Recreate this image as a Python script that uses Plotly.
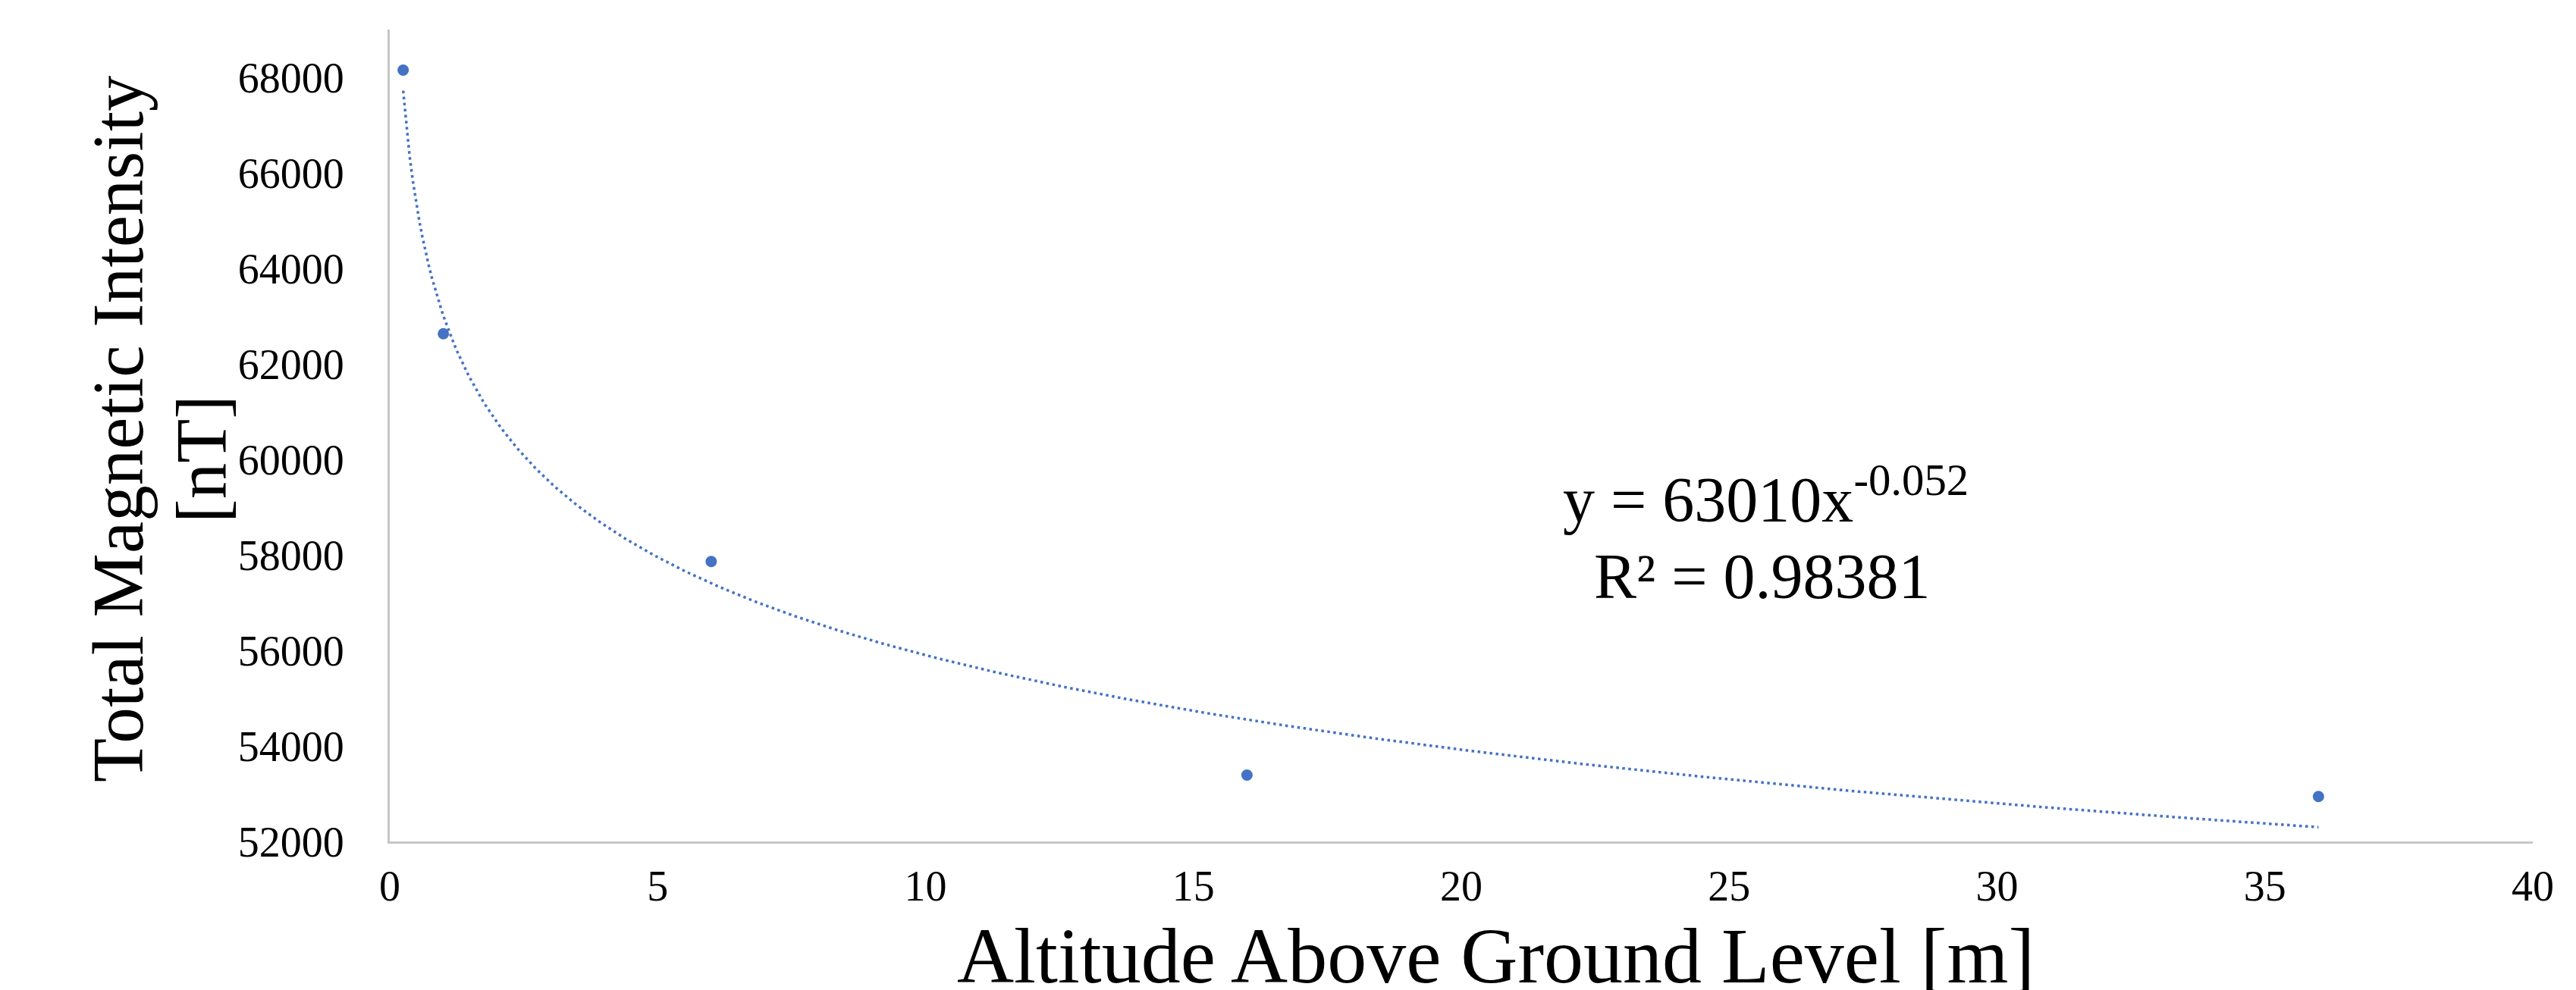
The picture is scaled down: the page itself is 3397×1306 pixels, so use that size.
import numpy as np
import plotly.graph_objects as go

# Data
altitude_m = [0.25, 1, 6, 16, 36]
intensity_nT = [68150, 62630, 57860, 53390, 52940]

# Displayed power-law trendline y = A * x^B
TREND_A = 63010
TREND_B = -0.052
trend_label = "y = 63010x<sup>-0.052</sup>"
r2_label = "R² = 0.98381"

x_ticks = [0, 5, 10, 15, 20, 25, 30, 35, 40]
y_ticks = [52000, 54000, 56000, 58000, 60000, 62000, 64000, 66000, 68000]

BLUE = "#4472C4"
AXIS_GRAY = "#C6C6C6"
FONT = "Liberation Serif"

W, H = 3397, 1306
L, R, T, B = 506, 65, 31, 204
PW = W - L - R
PH = H - T - B


def px_x(p):
    return (p - L) / PW


def px_y(p):
    return (H - B - p) / PH


tx = np.linspace(min(altitude_m), max(altitude_m), 600)
ty = TREND_A * tx ** TREND_B

fig = go.Figure()
fig.add_trace(go.Scatter(
    x=tx, y=ty, mode="lines",
    line=dict(color=BLUE, width=3.5, dash="3.5px,4.5px"),
    hoverinfo="skip", showlegend=False,
))
fig.add_trace(go.Scatter(
    x=altitude_m, y=intensity_nT, mode="markers",
    marker=dict(color=BLUE, size=15),
    showlegend=False,
))

fig.update_layout(
    width=W, height=H,
    margin=dict(l=L, r=R, t=T, b=B, pad=0),
    paper_bgcolor="white", plot_bgcolor="white",
    font=dict(family=FONT, color="black"),
    showlegend=False,
)
fig.update_xaxes(
    range=[0, 40], tickvals=x_ticks, ticktext=[str(v) for v in x_ticks],
    showgrid=False, zeroline=False, showline=True, linecolor=AXIS_GRAY, linewidth=3,
    ticks="", tickfont=dict(family=FONT, size=56, color="black"),
    ticklabelstandoff=8,
)
fig.update_yaxes(
    range=[52000, 69000], tickvals=y_ticks, ticktext=[str(v) for v in y_ticks],
    showgrid=False, zeroline=False, showline=True, linecolor=AXIS_GRAY, linewidth=3,
    ticks="", tickfont=dict(family=FONT, size=56, color="black"),
    ticklabelstandoff=46,
)

annos = [
    dict(text="Altitude Above Ground Level [m]", x=px_x(1964), y=px_y(1252),
         font=dict(size=104)),
    dict(text="Total Magnetic Intensity", x=px_x(148), y=px_y(558),
         textangle=-90, font=dict(size=95)),
    dict(text="[nT]", x=px_x(258), y=px_y(598),
         textangle=-90, font=dict(size=95)),
    dict(text=trend_label, x=px_x(2320), y=px_y(645), font=dict(size=84)),
    dict(text=r2_label, x=px_x(2316), y=px_y(752), font=dict(size=84)),
]
for a in annos:
    fig.add_annotation(xref="paper", yref="paper", showarrow=False,
                       xanchor="center", yanchor="middle",
                       **{k: v for k, v in a.items() if k != "font"},
                       font=dict(family=FONT, color="black", size=a["font"]["size"]))

fig.write_html("out.html")
